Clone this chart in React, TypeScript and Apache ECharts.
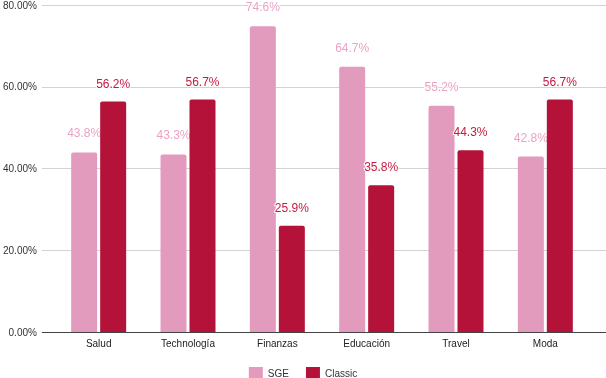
import React, { useEffect, useRef } from "react";
import * as echarts from "echarts";

const categories = ["Salud", "Technología", "Finanzas", "Educación", "Travel", "Moda"];
const sgeValues = [43.8, 43.3, 74.6, 64.7, 55.2, 42.8];
const classicValues = [56.2, 56.7, 25.9, 35.8, 44.3, 56.7];
const seriesNames = ["SGE", "Classic"];

const FONT = "'Liberation Sans', Arial, Helvetica, sans-serif";
const PINK = "#e29abd";
const RED = "#b41238";

export default function App() {
  const ref = useRef<HTMLDivElement>(null);
  useEffect(() => {
    if (!ref.current) return;
    const chart = echarts.init(ref.current, null, { renderer: "svg" });
    const yBase = {
      type: "value" as const,
      min: 0,
      max: 80,
      interval: 20,
    };
    chart.setOption({
      animation: false,
      textStyle: { fontFamily: FONT },
      grid: [
        { left: 39, right: 0, top: 4, bottom: 46 },
        { left: 54, right: 16, top: 4, bottom: 46 },
      ],
      legend: {
        data: seriesNames,
        top: 362,
        left: "center",
        itemWidth: 14,
        itemHeight: 13,
        itemGap: 17,
        icon: "rect",
        textStyle: { fontSize: 10, color: "#333", fontFamily: FONT },
      },
      xAxis: [
        {
          type: "category",
          gridIndex: 0,
          data: categories,
          show: false,
        },
        {
          type: "category",
          gridIndex: 1,
          data: categories,
          axisTick: { show: false },
          axisLine: { show: false },
          axisLabel: { fontSize: 10, color: "#222", margin: 6, fontFamily: FONT },
        },
      ],
      yAxis: [
        {
          ...yBase,
          gridIndex: 0,
          axisLabel: {
            fontSize: 10,
            color: "#333",
            margin: 5,
            fontFamily: FONT,
            formatter: (v: number) => v.toFixed(2) + "%",
          },
          axisLine: { show: false },
          axisTick: { show: false },
          splitLine: { lineStyle: { color: "#d3d3d3", width: 1 } },
        },
        {
          ...yBase,
          gridIndex: 1,
          show: false,
          splitLine: { show: false },
        },
      ],
      series: [
        {
          name: "zero",
          type: "line",
          xAxisIndex: 0,
          yAxisIndex: 0,
          data: [],
          markLine: {
            silent: true,
            symbol: "none",
            label: { show: false },
            lineStyle: { color: "#444", width: 1, type: "solid" },
            data: [{ yAxis: 0 }],
          },
        },
        {
          name: seriesNames[0],
          type: "bar",
          xAxisIndex: 1,
          yAxisIndex: 1,
          data: sgeValues,
          barWidth: 26,
          barGap: "11.5%",
          itemStyle: { color: PINK, borderRadius: [2, 2, 0, 0] },
          label: {
            show: true,
            position: "top",
            distance: 13,
            fontSize: 12,
            color: "#eaa3c5",
            fontFamily: FONT,
            textBorderColor: "#fff",
            textBorderWidth: 2,
            formatter: (p: any) => p.value.toFixed(1) + "%",
          },
        },
        {
          name: seriesNames[1],
          type: "bar",
          xAxisIndex: 1,
          yAxisIndex: 1,
          data: classicValues,
          barWidth: 26,
          barGap: "11.5%",
          z: 3,
          itemStyle: { color: RED, borderRadius: [2, 2, 0, 0] },
          label: {
            show: true,
            position: "top",
            distance: 12,
            fontSize: 12,
            color: "#c41a42",
            fontFamily: FONT,
            textBorderColor: "#fff",
            textBorderWidth: 2,
            formatter: (p: any) => p.value.toFixed(1) + "%",
          },
        },
      ],
    });
    return () => chart.dispose();
  }, []);
  return <div ref={ref} style={{ width: 606, height: 378, position: "fixed", left: 0, top: 0 }} />;
}
